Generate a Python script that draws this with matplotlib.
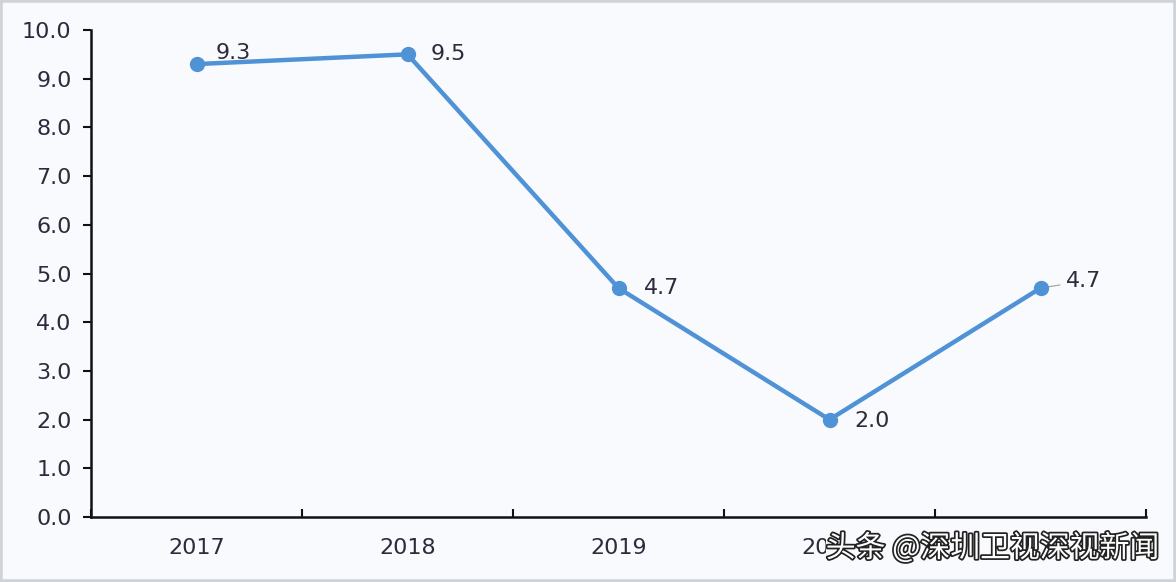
import matplotlib.pyplot as plt
import matplotlib.patheffects as pe
from matplotlib.patches import Rectangle

# 数据
years = ['2017', '2018', '2019', '2020', '2021']
values = [9.3, 9.5, 4.7, 2.0, 4.7]
y_ticks = [0, 1, 2, 3, 4, 5, 6, 7, 8, 9, 10]

bg = '#f8fafd'
line_c = '#4f93d6'
txt_c = '#2e2a3c'

fig = plt.figure(figsize=(11.76, 5.82), dpi=100, facecolor=bg)
ax = fig.add_axes([91 / 1176, 1 - 517 / 582, 1055 / 1176, 487 / 582])
ax.set_facecolor(bg)

x = list(range(len(years)))
ax.plot(x, values, color=line_c, linewidth=3.2, marker='o', markersize=10,
        solid_capstyle='round', zorder=3)

# 数据标签
offsets = [(14, 8), (17, 0), (18, 0), (18, -1), (18, 5)]
for xi, v, (dx, dy) in zip(x[:-1], values[:-1], offsets[:-1]):
    ax.annotate(f'{v:.1f}', (xi, v), xytext=(dx, dy), textcoords='offset points',
                fontsize=16, color=txt_c, va='center', ha='left')
# 最后一点带引线
ax.annotate(f'{values[-1]:.1f}', (x[-1], values[-1]), xytext=offsets[-1],
            textcoords='offset points', fontsize=16, color=txt_c, va='center', ha='left',
            arrowprops=dict(arrowstyle='-', color='#a0a0a0', lw=0.8,
                            shrinkA=2, shrinkB=0), zorder=2)

ax.set_xlim(-0.5, len(years) - 0.5)
ax.set_ylim(0, 10)
ax.set_yticks(y_ticks)
ax.set_yticklabels([f'{t:.1f}' for t in y_ticks])
ax.set_xticks([i - 0.5 for i in range(len(years) + 1)])
ax.set_xticklabels([])
ax.set_xticks(x, minor=True)
ax.set_xticklabels(years, minor=True)
ax.tick_params(axis='x', which='minor', length=0, pad=15, labelsize=16, labelcolor=txt_c)
ax.tick_params(axis='x', which='major', length=6, width=1.5, direction='in', color='#111111')
ax.tick_params(axis='y', length=6, width=1.5, direction='out', pad=8, labelsize=16,
               labelcolor=txt_c, color='#111111')

for s in ['top', 'right']:
    ax.spines[s].set_visible(False)
for s in ['left', 'bottom']:
    ax.spines[s].set_linewidth(1.8)
    ax.spines[s].set_color('#111111')

# 水印
fig.text(0.986, 0.058, '头条 @深圳卫视深视新闻', ha='right', va='center',
         fontsize=21.5, color='white', family=['Noto Sans CJK SC', 'DejaVu Sans'],
         path_effects=[pe.withStroke(linewidth=2.5, foreground='#222222')],
         bbox=dict(boxstyle='square,pad=0.0', fc=bg, ec='none'))

# 图片外框
fig.patches.append(Rectangle((0, 0), 1, 1, transform=fig.transFigure, fill=False,
                             ec='#cfd3d8', lw=4))

fig.savefig('out.png', dpi=100, facecolor=bg)
